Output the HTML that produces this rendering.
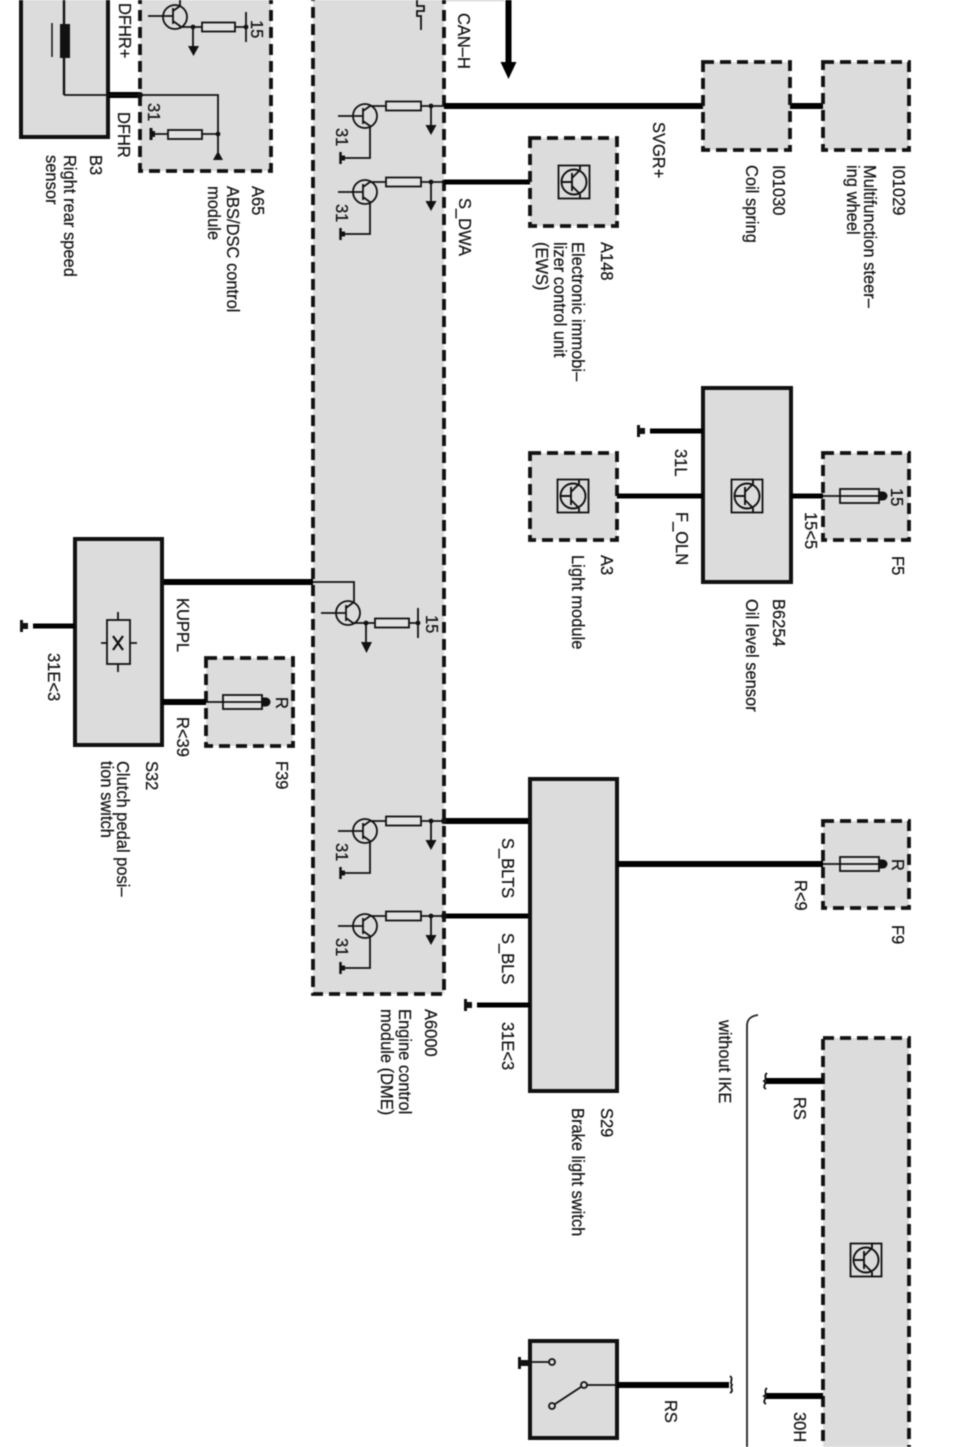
<!DOCTYPE html>
<html>
<head>
<meta charset="utf-8">
<style>
html,body{margin:0;padding:0;background:#fff;width:960px;height:1447px;overflow:hidden}
svg{display:block;filter:blur(0.4px)}
text{font-family:"Liberation Sans",sans-serif;font-size:16.5px;fill:#111;stroke:#111;stroke-width:0.2}
.box{fill:#dcdcdc;stroke:#111;stroke-width:4}
.dash{fill:#dcdcdc;stroke:#111;stroke-width:3.8;stroke-dasharray:11 6}
.w{stroke:#000;fill:none}
.t{stroke:#111;fill:none;stroke-width:1.8}
.r{fill:#e2e2e2;stroke:#111;stroke-width:1.8}
</style>
</head>
<body>
<svg width="960" height="1447" viewBox="0 0 960 1447" xmlns="http://www.w3.org/2000/svg">
<defs>
<g id="sym">
  <rect x="-15.5" y="-16.5" width="31" height="33" fill="none" stroke="#111" stroke-width="1.8"/>
  <circle cx="0" cy="0" r="12.5" fill="none" stroke="#111" stroke-width="1.9"/>
  <path d="M-12 0H-2M-2 -9V9M-2 -4L6 -12M-2 4L6 12M6 -12V-16.5M6 12V16.5" fill="none" stroke="#111" stroke-width="1.9"/>
</g>
<g id="drv">
  <circle cx="365" cy="10" r="12" fill="none" stroke="#111" stroke-width="1.8"/>
  <path d="M338 10H363M363 2V18M363 5L370 0H386M363 15L370 20V52H343" fill="none" stroke="#111" stroke-width="1.8"/>
  <rect class="r" x="386" y="-4.5" width="35" height="9"/>
  <path d="M421 0H444M431 0V20" fill="none" stroke="#111" stroke-width="1.8"/>
  <circle cx="431" cy="0" r="2.4" fill="#111"/>
  <path d="M425.5 19H436.5L431 29Z" fill="#111"/>
  <path d="M340.5 46V58" stroke="#111" stroke-width="2.5"/>
  <rect x="340" y="49.5" width="5" height="5" fill="#111"/>
  <text transform="translate(336,22) rotate(90) scale(1,1.08)">31</text>
</g>
<g id="fuse">
  <path d="M0 0H60" stroke="#111" stroke-width="1.8"/>
  <rect x="17" y="-7" width="39" height="14" fill="#e2e2e2" stroke="#111" stroke-width="1.8"/>
  <path d="M17 0H56" stroke="#111" stroke-width="1.8"/>
  <path d="M56 -4.5L60 -4.5A4.5 4.5 0 0 1 60 4.5L56 4.5Z" fill="#111"/>
</g>
<g id="gnd">
  <rect x="0" y="-6" width="3" height="12" fill="#111"/>
  <rect x="2" y="-3" width="6" height="6" fill="#111"/>
</g>
</defs>

<!-- top strip -->
<rect x="446" y="0" width="58" height="1.2" fill="#cfcfcf"/>

<!-- B3 -->
<rect class="box" x="21" y="-10" width="87" height="147"/>
<path d="M64 0V24M64 58V95" stroke="#111" stroke-width="2.4"/>
<rect x="60" y="24" width="10" height="34" fill="#111"/>
<path d="M52 23V57" stroke="#111" stroke-width="1.5"/>

<!-- A65 -->
<rect class="dash" x="140" y="-12" width="131" height="183"/>
<path d="M108 95H140" class="w" stroke-width="6"/>
<path d="M64 95H218V152" class="t" stroke-width="2"/>
<circle cx="140" cy="95" r="3" fill="#111"/>
<circle cx="218" cy="134" r="2.4" fill="#111"/>
<path d="M213 160H223L218 151Z" fill="#111"/>
<path d="M153 134H218" class="t"/>
<rect class="r" x="168" y="130" width="34" height="9"/>
<rect x="149.500" y="128" width="3" height="12" fill="#111"/>
<rect x="151" y="131" width="4" height="6" fill="#111"/>
<circle cx="175" cy="17" r="12" fill="none" stroke="#111" stroke-width="1.8"/>
<path d="M148 16H173M173 8V24M173 11L180 6V0M173 21L180 26V27H202M235 27H246M193 27V46" fill="none" stroke="#111" stroke-width="1.8"/>
<rect class="r" x="202" y="22.500" width="33" height="9"/>
<circle cx="193" cy="27" r="2.4" fill="#111"/>
<circle cx="246" cy="27" r="2.4" fill="#111"/>
<path d="M246 12V42" class="t"/>
<path d="M188 46H199L193.500 56Z" fill="#111"/>

<!-- A6000 -->
<rect class="dash" x="313" y="-12" width="131" height="1006"/>
<path d="M417 0V6H424V11H417V16H421V30" fill="none" stroke="#111" stroke-width="1.8"/>
<use href="#drv" x="0" y="106"/>
<use href="#drv" x="0" y="182"/>
<use href="#drv" x="0" y="821"/>
<use href="#drv" x="0" y="916"/>
<!-- mid transistor -->
<circle cx="348" cy="613" r="12" fill="none" stroke="#111" stroke-width="1.8"/>
<path d="M321 613H346M346 605V621M346 608L354 602V582H313M346 618L353 623H375M408 623H418M366 623V642" fill="none" stroke="#111" stroke-width="1.8"/>
<rect class="r" x="375" y="618.500" width="34" height="9"/>
<circle cx="366" cy="623" r="2.4" fill="#111"/>
<circle cx="418" cy="623" r="2.4" fill="#111"/>
<path d="M418 608V638" class="t"/>
<path d="M361 642H372L366.500 653Z" fill="#111"/>

<!-- wires -->
<path d="M444 106H703" class="w" stroke-width="6"/>
<path d="M790 106H823" class="w" stroke-width="6"/>
<path d="M444 182H530" class="w" stroke-width="5"/>
<path d="M162 582H313" class="w" stroke-width="6"/>
<path d="M444 821H530" class="w" stroke-width="6"/>
<path d="M444 916H530" class="w" stroke-width="5"/>
<circle cx="444" cy="821" r="3" fill="#111"/>
<circle cx="444" cy="916" r="3" fill="#111"/>
<path d="M508.500 0V64" class="w" stroke-width="6"/>
<path d="M500.500 62H516.500L508.500 79Z" fill="#000"/>

<!-- Right top boxes -->
<rect class="dash" x="703" y="62" width="87" height="88"/>
<rect class="dash" x="823" y="62" width="86" height="88"/>
<rect class="dash" x="530" y="138" width="87" height="88"/>
<use href="#sym" x="574" y="182"/>

<!-- B6254 etc -->
<rect class="box" x="703" y="388" width="88" height="194"/>
<use href="#sym" x="747" y="496"/>
<path d="M650 431H703" class="w" stroke-width="5"/>
<use href="#gnd" x="637" y="431"/>
<rect class="dash" x="530" y="453" width="87" height="87"/>
<use href="#sym" x="573" y="496"/>
<path d="M617 496H703" class="w" stroke-width="5"/>
<path d="M791 496H823" class="w" stroke-width="5"/>
<rect class="dash" x="823" y="453" width="86" height="87"/>
<use href="#fuse" x="823" y="496"/>

<!-- S32 -->
<rect class="box" x="75" y="539" width="87" height="206"/>
<rect x="107" y="620" width="23" height="44" fill="none" stroke="#111" stroke-width="1.8"/>
<path d="M101 643H107M130 643H137M118 612V620M118 664V672" class="t"/>
<path d="M113 636L123 650M123 636L113 650" stroke="#111" stroke-width="2.2"/>
<path d="M33 626H75" class="w" stroke-width="5"/>
<use href="#gnd" x="20" y="626"/>
<rect class="dash" x="206" y="658" width="87" height="88"/>
<path d="M162 702H206" class="w" stroke-width="6"/>
<use href="#fuse" x="206" y="702"/>

<!-- S29 -->
<rect class="box" x="530" y="779" width="87" height="312"/>
<path d="M617 864H823" class="w" stroke-width="6"/>
<rect class="dash" x="823" y="821" width="86" height="87"/>
<use href="#fuse" x="823" y="864"/>
<path d="M477 1005H530" class="w" stroke-width="5"/>
<use href="#gnd" x="464" y="1005"/>

<!-- bottom right -->
<path d="M758 1015C751 1016 747 1019 747 1026V1447" fill="none" stroke="#222" stroke-width="1.8"/>
<rect class="dash" x="823" y="1038" width="86" height="430"/>
<use href="#sym" x="866" y="1260"/>
<path d="M766 1081H823" class="w" stroke-width="6"/>
<path d="M766 1396H823" class="w" stroke-width="6"/>
<path d="M767 1073C763 1076 768 1079 764 1081C768 1084 761 1086 766 1089" fill="none" stroke="#111" stroke-width="1.8"/>
<path d="M767 1388C763 1391 768 1394 764 1396C768 1399 761 1401 766 1404" fill="none" stroke="#111" stroke-width="1.8"/>

<!-- switch -->
<rect class="box" x="530" y="1341" width="87" height="97"/>
<path d="M617 1385H729" class="w" stroke-width="6"/>
<path d="M584 1385H617M552 1406L584 1385M530 1362H549" class="t"/>
<circle cx="584" cy="1385" r="3" fill="#dcdcdc" stroke="#111" stroke-width="1.8"/>
<circle cx="552" cy="1406" r="3" fill="#dcdcdc" stroke="#111" stroke-width="1.8"/>
<circle cx="552" cy="1362" r="3" fill="#dcdcdc" stroke="#111" stroke-width="1.8"/>
<rect x="518" y="1357" width="3" height="12" fill="#111"/>
<rect x="520" y="1360" width="8" height="6" fill="#111"/>
<path d="M730 1376C734 1379 729 1382 732 1385C729 1388 735 1390 730 1393" fill="none" stroke="#111" stroke-width="1.8"/>

<!-- labels -->
<g transform="translate(1,0)">
<text transform="translate(118,3) rotate(90) scale(1,1.08)">DFHR+</text>
<text transform="translate(117,112) rotate(90) scale(1,1.08)">DFHR</text>
<text transform="translate(89,155) rotate(90) scale(1,1.08)">B3</text>
<text transform="translate(63,155) rotate(90) scale(1,1.08)">Right rear speed</text>
<text transform="translate(45,155) rotate(90) scale(1,1.08)">sensor</text>
<text transform="translate(251,186) rotate(90) scale(1,1.08)">A65</text>
<text transform="translate(226,186) rotate(90) scale(1,1.08)">ABS/DSC control</text>
<text transform="translate(207,186) rotate(90) scale(1,1.08)">module</text>
<text transform="translate(147,103) rotate(90) scale(1,1.08)">31</text>
<text transform="translate(250,20) rotate(90) scale(1,1.08)">15</text>
<text transform="translate(457,13) rotate(90) scale(1,1.08)">CAN–H</text>
<text transform="translate(458,198) rotate(90) scale(1,1.08)">S_DWA</text>
<text transform="translate(652,122) rotate(90) scale(1,1.08)">SVGR+</text>
<text transform="translate(772,165) rotate(90) scale(1,1.08)">I01030</text>
<text transform="translate(745,165) rotate(90) scale(1,1.08)">Coil spring</text>
<text transform="translate(892,165) rotate(90) scale(1,1.08)">I01029</text>
<text transform="translate(863,165) rotate(90) scale(1,1.08)">Multifunction steer–</text>
<text transform="translate(846,165) rotate(90) scale(1,1.08)">ing wheel</text>
<text transform="translate(600,242) rotate(90) scale(1,1.08)">A148</text>
<text transform="translate(571,242) rotate(90) scale(1,1.08)">Electronic immobi–</text>
<text transform="translate(553,242) rotate(90) scale(1,1.08)">lizer control unit</text>
<text transform="translate(535,242) rotate(90) scale(1,1.08)">(EWS)</text>
<text transform="translate(674,449) rotate(90) scale(1,1.08)">31L</text>
<text transform="translate(675,512) rotate(90) scale(1,1.08)">F_OLN</text>
<text transform="translate(804,512) rotate(90) scale(1,1.08)">15&lt;5</text>
<text transform="translate(890,488) rotate(90) scale(1,1.08)">15</text>
<text transform="translate(891,556) rotate(90) scale(1,1.08)">F5</text>
<text transform="translate(600,555) rotate(90) scale(1,1.08)">A3</text>
<text transform="translate(571,555) rotate(90) scale(1,1.08)">Light module</text>
<text transform="translate(772,599) rotate(90) scale(1,1.08)">B6254</text>
<text transform="translate(745,599) rotate(90) scale(1,1.08)">Oil level sensor</text>
<text transform="translate(176,598) rotate(90) scale(1,1.08)">KUPPL</text>
<text transform="translate(176,717) rotate(90) scale(1,1.08)">R&lt;39</text>
<text transform="translate(47,653) rotate(90) scale(1,1.08)">31E&lt;3</text>
<text transform="translate(145,761) rotate(90) scale(1,1.08)">S32</text>
<text transform="translate(116,761) rotate(90) scale(1,1.08)">Clutch pedal posi–</text>
<text transform="translate(100,761) rotate(90) scale(1,1.08)">tion switch</text>
<text transform="translate(275,761) rotate(90) scale(1,1.08)">F39</text>
<text transform="translate(275,697) rotate(90) scale(1,1.08)">R</text>
<text transform="translate(425,615) rotate(90) scale(1,1.08)">15</text>
<text transform="translate(501,838) rotate(90) scale(1,1.08)">S_BLTS</text>
<text transform="translate(501,933) rotate(90) scale(1,1.08)">S_BLS</text>
<text transform="translate(501,1022) rotate(90) scale(1,1.08)">31E&lt;3</text>
<text transform="translate(424,1009) rotate(90) scale(1,1.08)">A6000</text>
<text transform="translate(398,1009) rotate(90) scale(1,1.08)">Engine control</text>
<text transform="translate(380,1009) rotate(90) scale(1,1.08)">module (DME)</text>
<text transform="translate(600,1108) rotate(90) scale(1,1.08)">S29</text>
<text transform="translate(571,1108) rotate(90) scale(1,1.08)">Brake light switch</text>
<text transform="translate(794,880) rotate(90) scale(1,1.08)">R&lt;9</text>
<text transform="translate(891,925) rotate(90) scale(1,1.08)">F9</text>
<text transform="translate(891,859) rotate(90) scale(1,1.08)">R</text>
<text transform="translate(718,1020) rotate(90) scale(1,1.08)">without IKE</text>
<text transform="translate(793,1097) rotate(90) scale(1,1.08)">RS</text>
<text transform="translate(793,1412) rotate(90) scale(1,1.08)">30H</text>
<text transform="translate(664,1400) rotate(90) scale(1,1.08)">RS</text>
</g>
</svg>
</body>
</html>
